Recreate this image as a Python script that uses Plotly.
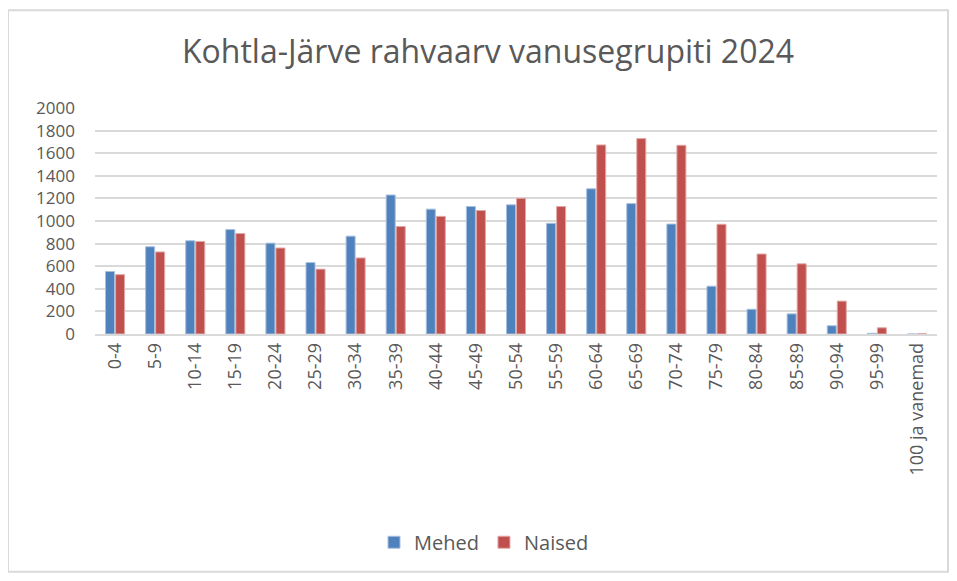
import plotly.graph_objects as go

# age groups and population counts
age_groups = ['0-4', '5-9', '10-14', '15-19', '20-24', '25-29', '30-34',
              '35-39', '40-44', '45-49', '50-54', '55-59', '60-64', '65-69',
              '70-74', '75-79', '80-84', '85-89', '90-94', '95-99',
              '100 ja vanemad']
mehed = [553, 772, 825, 924, 804, 632, 866, 1230, 1105, 1128, 1143, 979,
         1285, 1154, 973, 423, 219, 178, 73, 6, 0]
naised = [525, 726, 819, 889, 761, 574, 673, 951, 1041, 1093, 1201, 1128,
          1673, 1729, 1670, 971, 708, 621, 291, 55, 3]

# the page body adds an 8px margin, so the figure is a bit smaller
W, H = 941, 565
ML, MR, MT, MB = 87, 12, 100, 236
pw, ph = W - ML - MR, H - MT - MB
text_color = '#595959'

fig = go.Figure()
fig.add_trace(go.Bar(name='Mehed', x=age_groups, y=mehed,
                     marker=dict(color='#4F81BD',
                                 line=dict(color='#A7C0DE', width=1))))
fig.add_trace(go.Bar(name='Naised', x=age_groups, y=naised,
                     marker=dict(color='#C0504D',
                                 line=dict(color='#E0A8A6', width=1))))

# light border around the whole chart area
fig.add_shape(type='rect', xref='paper', yref='paper',
              x0=(0 - ML) / pw, x1=(940 - ML) / pw,
              y0=-(H - MT - ph + 5) / ph, y1=(MT - 1) / ph + 1,
              line=dict(color='#d9d9d9', width=2), layer='below')

fig.update_layout(
    width=W, height=H,
    margin=dict(l=ML, r=MR, t=MT, b=MB),
    paper_bgcolor='white', plot_bgcolor='white',
    font=dict(family='Open Sans, sans-serif', size=18, color=text_color),
    title=dict(text='Kohtla-Järve rahvaarv vanusegrupiti 2024',
               x=480 / W, xanchor='center',
               y=1 - 44 / H, yanchor='middle',
               font=dict(size=32, color=text_color)),
    barmode='group', bargap=0.5, bargroupgap=0.1,
    showlegend=True,
    legend=dict(orientation='h', x=0.462, xanchor='center',
                y=-(540 - MT - ph) / ph, yanchor='middle',
                font=dict(size=20), itemwidth=30),
    xaxis=dict(tickangle=-90, showgrid=False, showline=True,
               linecolor='#d9d9d9', linewidth=1.5, ticks='',
               tickfont=dict(size=18)),
    yaxis=dict(range=[0, 2000], dtick=200, showgrid=True,
               gridcolor='#d9d9d9', gridwidth=1.5, zeroline=False,
               ticks='', ticklabelstandoff=19, tickfont=dict(size=17)),
)

fig.write_html('out.html')
